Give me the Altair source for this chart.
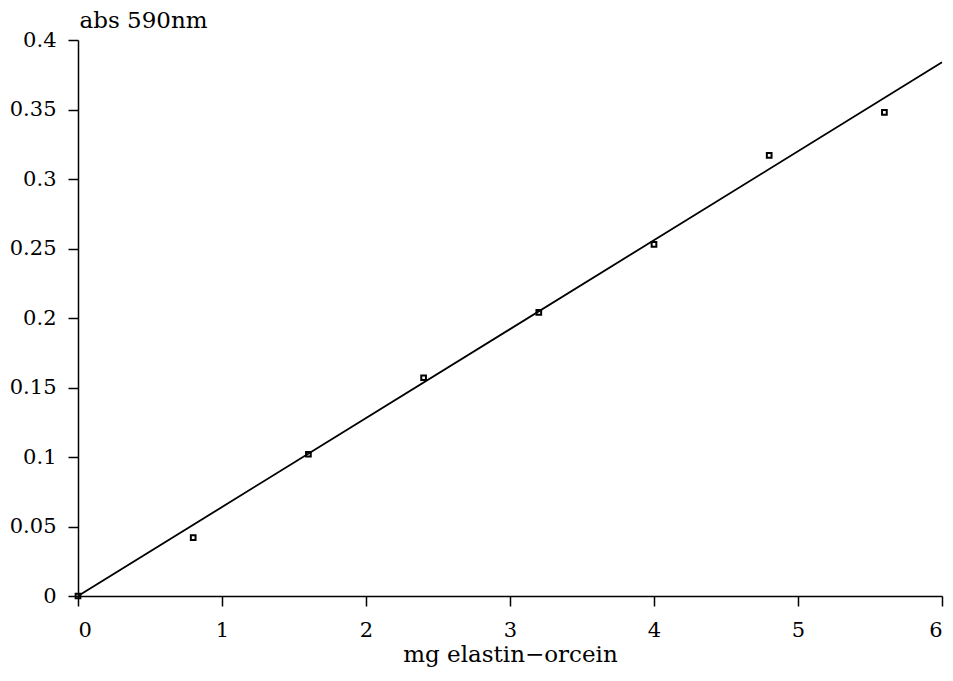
import altair as alt
import pandas as pd

mg = [0.0, 0.8, 1.6, 2.4, 3.2, 4.0, 4.8, 5.6]
absorb = [0.0, 0.042, 0.102, 0.157, 0.204, 0.253, 0.317, 0.348]
fit_x = [0.0, 6.0]
fit_y = [0.0, 0.384]
x_ticks = [0, 1, 2, 3, 4, 5, 6]
y_ticks = [0, 0.05, 0.1, 0.15, 0.2, 0.25, 0.3, 0.35, 0.4]

pts = pd.DataFrame({"x": mg, "y": absorb})
fit = pd.DataFrame({"x": fit_x, "y": fit_y})

FONT = "DejaVu Serif"

xs = alt.Scale(domain=[0, 6], nice=False, zero=False)
ys = alt.Scale(domain=[0, 0.4], nice=False, zero=False)

common = dict(grid=False, ticks=True, tickOpacity=1, domainOpacity=1,
              labelFontSize=21, titleFontSize=23, labelFont=FONT, titleFont=FONT,
              titleFontWeight="normal", labelColor="black", titleColor="black",
              domainColor="black", tickColor="black", domainWidth=1.5, tickWidth=1.5,
              tickSize=10)

xax = alt.Axis(values=x_ticks, title="mg elastin\u2212orcein", format="d",
               labelPadding=13, titlePadding=3, **common)
yax = alt.Axis(values=y_ticks, title="abs 590nm", format="~g",
               labelPadding=12, titleAngle=0, titleAlign="left",
               titleBaseline="alphabetic", titleX=1, titleY=-13, **common)

line = alt.Chart(fit).mark_line(color="black", strokeWidth=1.8).encode(
    x=alt.X("x:Q", scale=xs, axis=xax),
    y=alt.Y("y:Q", scale=ys, axis=yax),
)
points = alt.Chart(pts).mark_point(shape="square", filled=False, color="black",
                                   strokeWidth=2, size=22, opacity=1).encode(
    x=alt.X("x:Q", scale=xs),
    y=alt.Y("y:Q", scale=ys),
)

chart = (line + points).properties(
    width=864, height=556,
    background="white",
    autosize=alt.AutoSizeParams(type="none"),
    padding={"left": 70, "top": 32, "right": 3, "bottom": 77},
).configure_view(stroke=None)

chart.save("out.html", embed_options={"renderer": "svg", "actions": False})
